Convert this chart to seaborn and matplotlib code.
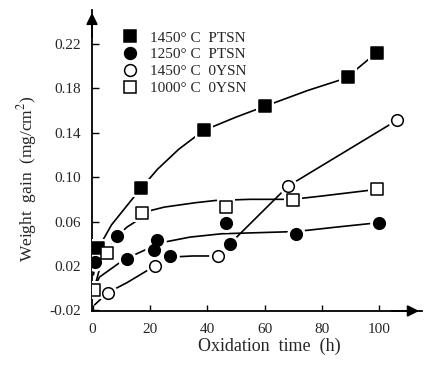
import matplotlib
matplotlib.use("Agg")
import matplotlib.pyplot as plt
from matplotlib.lines import Line2D
import seaborn as sns

# measured points (time in h, weight gain in mg/cm^2)
t_1450_ptsn = [2, 17, 39, 60, 89, 99]
w_1450_ptsn = [0.036, 0.090, 0.142, 0.164, 0.190, 0.212]

t_1250_ptsn = [0.7, 8.6, 12, 21.4, 22.5, 27, 46.4, 47.8, 70.8, 99.8]
w_1250_ptsn = [0.024, 0.047, 0.026, 0.034, 0.043, 0.029, 0.059, 0.040, 0.049, 0.059]

t_1450_0ysn = [5.3, 21.7, 43.6, 68.2, 106]
w_1450_0ysn = [-0.004, 0.020, 0.029, 0.092, 0.151]

t_1000_0ysn = [0.4, 4.9, 17.3, 46.4, 69.7, 99.3]
w_1000_0ysn = [-0.002, 0.032, 0.068, 0.073, 0.079, 0.089]

# hand drawn trend curves
ct_1450_ptsn = [0.3, 2, 6.6, 15, 22.6, 30, 38.7, 50, 60.3, 75, 87, 92, 99]
cw_1450_ptsn = [0.012, 0.036, 0.057, 0.084, 0.107, 0.125, 0.142, 0.154, 0.164, 0.178, 0.188, 0.197, 0.212]

ct_1250_ptsn = [0.5, 2.4, 10, 12, 18.8, 22.5, 26, 34, 45, 58, 71, 85, 99.8]
cw_1250_ptsn = [0.0, 0.010, 0.024, 0.027, 0.035, 0.041, 0.042, 0.046, 0.049, 0.050, 0.051, 0.055, 0.059]

ct_1450_0ysn = [0.7, 5.3, 12, 21.7, 27, 35, 43.6, 68.2, 106]
cw_1450_0ysn = [-0.015, -0.004, 0.005, 0.020, 0.028, 0.029, 0.029, 0.092, 0.151]

ct_1000_0ysn = [0.4, 2.5, 4.9, 8.6, 12, 15, 17.3, 25, 36, 43, 55, 69.7, 80, 99.3]
cw_1000_0ysn = [-0.002, 0.018, 0.032, 0.047, 0.055, 0.060, 0.068, 0.073, 0.077, 0.079, 0.080, 0.080, 0.083, 0.089]

labels = ["1450° C  PTSN", "1250° C  PTSN", "1450° C  0YSN", "1000° C  0YSN"]
markers = ["s", "o", "o", "s"]
filled = [True, True, False, False]

xticks = [0, 20, 40, 60, 80, 100]
yticks = [-0.02, 0.02, 0.06, 0.10, 0.14, 0.18, 0.22]
ytick_labels = ["-0.02", "0.02", "0.06", "0.10", "0.14", "0.18", "0.22"]

sns.set_style("ticks")
plt.rcParams["font.family"] = ["Liberation Serif", "DejaVu Serif"]
plt.rcParams["mathtext.fontset"] = "stix"
plt.rcParams["axes.unicode_minus"] = False

fig = plt.figure(figsize=(4.24, 3.68), dpi=100)
ax = fig.add_axes([0.217, 0.155, 0.778, 0.818])

points = [(t_1450_ptsn, w_1450_ptsn), (t_1250_ptsn, w_1250_ptsn),
          (t_1450_0ysn, w_1450_0ysn), (t_1000_0ysn, w_1000_0ysn)]
curves = [(ct_1450_ptsn, cw_1450_ptsn), (ct_1250_ptsn, cw_1250_ptsn),
          (ct_1450_0ysn, cw_1450_0ysn), (ct_1000_0ysn, cw_1000_0ysn)]

for (cx, cy) in curves:
    sns.lineplot(x=cx, y=cy, sort=False, estimator=None, color="black", lw=1.2, ax=ax, zorder=2)

# white halos so the curves stop short of the symbols
for (px, py), m in zip(points, markers):
    sns.scatterplot(x=px, y=py, marker=m, s=180, color="white", linewidth=0, ax=ax, zorder=3)

handles = []
for (px, py), m, f, lab in zip(points, markers, filled, labels):
    fc = "black" if f else "white"
    sns.scatterplot(x=px, y=py, marker=m, s=70, color=fc, edgecolor="black", linewidth=1.1, ax=ax, zorder=4)
    handles.append(Line2D([], [], ls="none", marker=m, ms=8.5, mfc=fc, mec="black", mew=1.1, label=lab))

ax.set_xlim(-0.2, 114.8)
ax.set_ylim(-0.0205, 0.2505)
ax.set_xticks(xticks)
ax.set_yticks(yticks)
ax.set_yticklabels(ytick_labels)
ax.tick_params(axis="both", direction="in", labelsize=11, width=1, color="black")
ax.tick_params(axis="y", length=5, pad=8)
ax.tick_params(axis="x", length=4, pad=9)

sns.despine(ax=ax)
for s in ["left", "bottom"]:
    ax.spines[s].set_linewidth(1.3)
    ax.spines[s].set_color("black")

ax.annotate("", xy=(0, 1.0), xytext=(0, 0.9), xycoords="axes fraction",
            arrowprops=dict(arrowstyle="-|>", color="black", lw=1.3, mutation_scale=17))
ax.annotate("", xy=(1.0, 0), xytext=(0.9, 0), xycoords="axes fraction",
            arrowprops=dict(arrowstyle="-|>", color="black", lw=1.3, mutation_scale=17))

ax.set_xlabel("Oxidation  time  (h)", fontsize=13)
ax.set_ylabel("Weight  gain  (mg/cm$^{2}$)", fontsize=12.5)
ax.xaxis.set_label_coords(0.536, -0.09)
ax.yaxis.set_label_coords(-0.16, 0.44)

ax.legend(handles=handles, loc="upper left", bbox_to_anchor=(0.091, 0.93), frameon=False,
          fontsize=11, borderpad=0, handlelength=1.0, handletextpad=0.8, labelspacing=0.2,
          borderaxespad=0)

fig.savefig("out.png", dpi=100)
